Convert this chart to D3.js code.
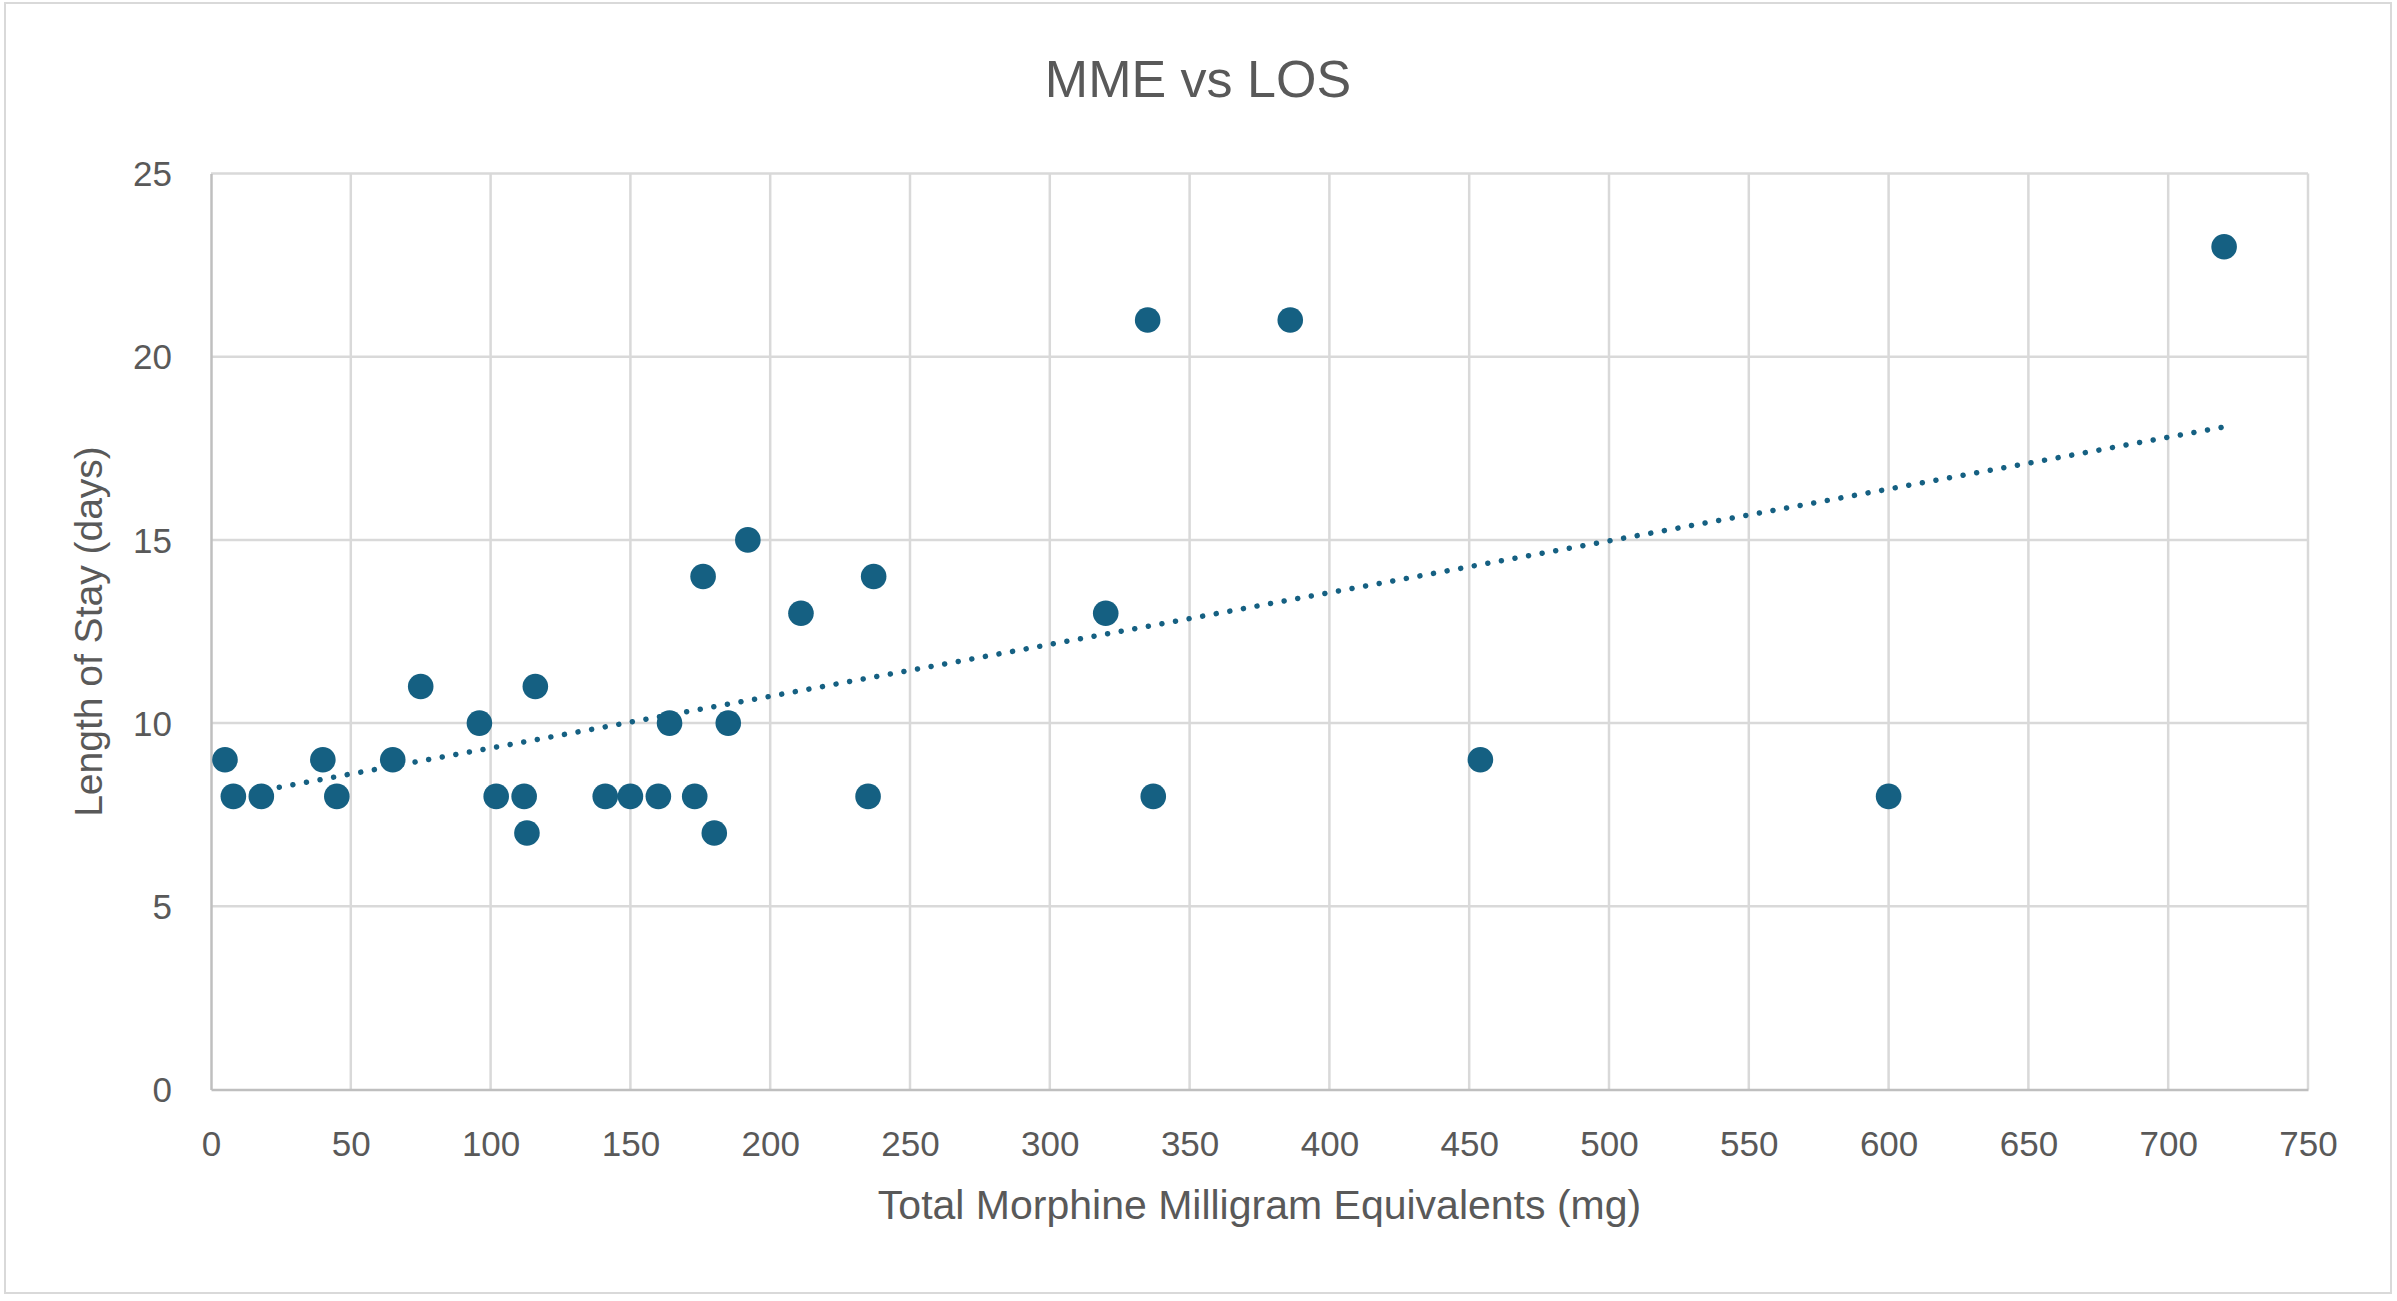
<!DOCTYPE html>
<html>
<head>
<meta charset="utf-8">
<script src="https://cdn.jsdelivr.net/npm/d3@7"></script>
<style>
  html, body { margin: 0; padding: 0; background: #ffffff; }
  svg { display: block; }
  text { font-family: "Liberation Sans", Arial, sans-serif; fill: #595959; }
</style>
</head>
<body>
<script>
// ---- data ----
const mme = [5, 8, 18, 40, 45, 65, 75, 96, 102, 112, 113, 116, 141, 150, 160, 164, 173, 176, 180, 185, 192, 211, 235, 237, 320, 335, 337, 386, 454, 600, 720];
const los = [9, 8, 8, 9, 8, 9, 11, 10, 8, 8, 7, 11, 8, 8, 8, 10, 8, 14, 7, 10, 15, 13, 8, 14, 13, 21, 8, 21, 9, 8, 23];
const xTicks = [0, 50, 100, 150, 200, 250, 300, 350, 400, 450, 500, 550, 600, 650, 700, 750];
const yTicks = [0, 5, 10, 15, 20, 25];
const titleText = "MME vs LOS";
const xTitle = "Total Morphine Milligram Equivalents (mg)";
const yTitle = "Length of Stay (days)";

const W = 2397, H = 1301;
const m = { left: 211, right: 2308, top: 173.5, bottom: 1089.5 };
const color = "#156082";

const svg = d3.select("body").append("svg").attr("width", W).attr("height", H);

// chart area border
svg.append("rect").attr("x", 5).attr("y", 3).attr("width", 2386).attr("height", 1290)
  .attr("fill", "#ffffff").attr("stroke", "#d9d9d9").attr("stroke-width", 2);

const x = d3.scaleLinear().domain([0, 750]).range([m.left, m.right]);
const y = d3.scaleLinear().domain([0, 25]).range([m.bottom, m.top]);

// gridlines
const grid = svg.append("g");
grid.selectAll("line.v").data(xTicks.filter(d => d > 0)).join("line")
  .attr("x1", d => x(d)).attr("x2", d => x(d)).attr("y1", m.top).attr("y2", m.bottom)
  .attr("stroke", "#d9d9d9").attr("stroke-width", 2.5);
grid.selectAll("line.h").data(yTicks.filter(d => d > 0)).join("line")
  .attr("x1", m.left).attr("x2", m.right).attr("y1", d => y(d)).attr("y2", d => y(d))
  .attr("stroke", "#d9d9d9").attr("stroke-width", 2.5);

// axes
const xAxis = svg.append("g").attr("transform", `translate(0,${m.bottom})`)
  .call(d3.axisBottom(x).tickValues(xTicks).tickSize(0).tickPadding(0).tickFormat(d3.format("d")));
xAxis.select(".domain").attr("stroke", "#bfbfbf").attr("stroke-width", 2.5);
xAxis.selectAll("text").attr("font-size", 35).attr("fill", "#595959").attr("dy", 0).attr("y", 66)
  .attr("font-family", '"Liberation Sans", Arial, sans-serif');

const yAxis = svg.append("g").attr("transform", `translate(${m.left},0)`)
  .call(d3.axisLeft(y).tickValues(yTicks).tickSize(0).tickPadding(0).tickFormat(d3.format("d")));
yAxis.select(".domain").attr("stroke", "#bfbfbf").attr("stroke-width", 2.5);
yAxis.selectAll("text").attr("font-size", 35).attr("fill", "#595959").attr("x", -39).attr("dy", "0.35em")
  .attr("font-family", '"Liberation Sans", Arial, sans-serif');

// linear trendline (least squares), drawn from min x to max x
const pts = mme.map((v, i) => ({ x: v, y: los[i] }));
const mx = d3.mean(pts, d => d.x), my = d3.mean(pts, d => d.y);
const slope = d3.sum(pts, d => (d.x - mx) * (d.y - my)) / d3.sum(pts, d => (d.x - mx) ** 2);
const intercept = my - slope * mx;
const xr = d3.extent(mme);
const trend = xr.map(v => ({ x: v, y: intercept + slope * v }));
svg.append("path").datum(trend)
  .attr("d", d3.line().x(d => x(d.x)).y(d => y(d.y)))
  .attr("fill", "none").attr("stroke", color).attr("stroke-width", 5.5)
  .attr("stroke-linecap", "round").attr("stroke-dasharray", "0.01 13.8");

// points
svg.append("g").selectAll("circle").data(pts).join("circle")
  .attr("cx", d => x(d.x)).attr("cy", d => y(d.y)).attr("r", 12.8)
  .attr("fill", color);

// titles
svg.append("text").attr("x", 1198).attr("y", 97).attr("text-anchor", "middle")
  .attr("font-size", 52).text(titleText);
svg.append("text").attr("x", (m.left + m.right) / 2).attr("y", 1219).attr("text-anchor", "middle")
  .attr("font-size", 41).text(xTitle);
svg.append("text").attr("transform", `translate(102,${(m.top + m.bottom) / 2}) rotate(-90)`)
  .attr("text-anchor", "middle").attr("font-size", 39).text(yTitle);
</script>
</body>
</html>
